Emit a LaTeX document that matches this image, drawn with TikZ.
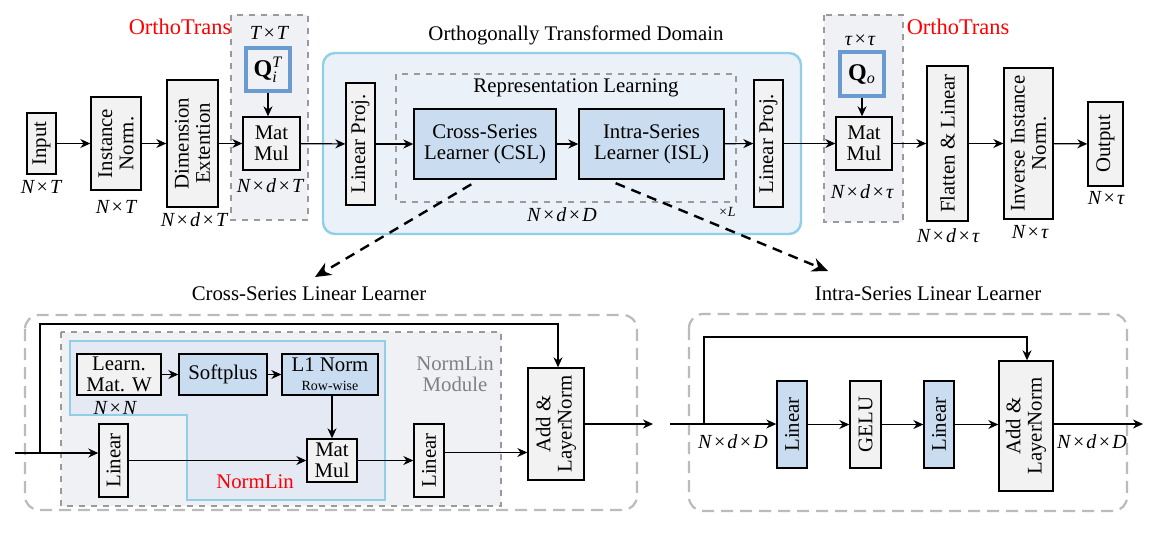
\documentclass[tikz,border=0pt]{standalone}
\usepackage{fontspec}
\setmainfont{Liberation Serif}
\usepackage{amsmath}
\usetikzlibrary{arrows.meta,calc}

\definecolor{boxgray}{HTML}{F2F2F2}
\definecolor{boxblue}{HTML}{C9DCF0}
\definecolor{qblue}{HTML}{6A9BD0}
\definecolor{domainline}{HTML}{8FCFE8}
\definecolor{domainfill}{HTML}{EAF1F9}
\definecolor{panelfill}{HTML}{EFF1F5}
\definecolor{normlinfill}{HTML}{E4E9F3}
\definecolor{dashgray}{HTML}{9A9A9A}
\definecolor{outergray}{HTML}{BBBBBB}

% compact italic shape labels
\newcommand{\shp}[1]{\textit{#1}}
\newcommand{\tms}{\kern0.6pt×\kern0.6pt}

\tikzset{
	box/.style={draw, fill=boxgray, line width=0.7pt, inner sep=1pt, align=center},
	bluebox/.style={box, fill=boxblue},
	vbox/.style={box, rotate=90},
	vbluebox/.style={bluebox, rotate=90},
	qbox/.style={draw=qblue, line width=1.6pt, fill=panelfill, inner sep=1pt},
	flow/.style={-{Stealth[length=5pt,width=4.5pt]}, line width=0.6pt},
	dimlabel/.style={font=\fontsize{10}{10}\selectfont\itshape},
	zoomarrow/.style={-{Stealth[length=8pt,width=7pt]}, line width=1.2pt, dash pattern=on 5pt off 3.5pt},
	panel/.style={draw=dashgray, dashed, line width=0.8pt, fill=panelfill}
}

\begin{document}
\begin{tikzpicture}[x=0.5pt, y=-0.5pt, font=\fontsize{10.4}{10.6}\selectfont]
	\useasboundingbox (0,0) rectangle (1165,532);

	% OrthoTrans panels and the transformed domain
	\filldraw[panel] (231,15) rectangle (308,220);
	\filldraw[panel] (824,15) rectangle (903,222);
	\filldraw[draw=domainline, fill=domainfill, line width=1.2pt, rounded corners=6pt] (323,53) rectangle (801,234);
	\draw[dashgray, dashed, line width=0.8pt] (396,74) rectangle (736,202);

	\node[red, font=\fontsize{11.2}{12}\selectfont] at (180,27) {OrthoTrans};
	\node[red, font=\fontsize{11.2}{12}\selectfont] at (958,27) {OrthoTrans};
	\node at (576,35) {Orthogonally Transformed Domain};
	\node at (576,88) {Representation Learning};

	% Top row
	\node[vbox, minimum width=30.5pt, minimum height=14.5pt] (inp) at (41.5,143.5) {Input};
	\node[vbox, minimum width=46.5pt, minimum height=25pt] (inorm) at (116,143.5) {Instance\\Norm.};
	\node[vbox, minimum width=63.5pt, minimum height=25.5pt] (dimext) at (192.5,143.5) {Dimension\\Extention};
	\node[qbox, minimum width=22pt, minimum height=21.5pt, font=\fontsize{12}{12}\selectfont] (qi) at (268,69.5) {\textbf{Q}$_{\textit{i}}^{\textit{T}}$};
	\node[box, minimum width=28.5pt, minimum height=26.5pt] (mmi) at (271.5,143.5) {Mat\\Mul};
	\node[vbox, minimum width=61pt, minimum height=14.5pt] (lpin) at (360.5,144) {Linear Proj.};
	\node[bluebox, minimum width=71pt, minimum height=35pt] (csl) at (485,144) {Cross-Series\\Learner (CSL)};
	\node[bluebox, minimum width=72.5pt, minimum height=35pt] (isl) at (651.5,144) {Intra-Series\\Learner (ISL)};
	\node[vbox, minimum width=63.5pt, minimum height=14.5pt] (lpout) at (768.5,143.5) {Linear Proj.};
	\node[qbox, minimum width=22pt, minimum height=22pt, font=\fontsize{12}{12}\selectfont] (qo) at (862,74) {\textbf{Q}$_{\textit{o}}$};
	\node[box, minimum width=28pt, minimum height=26.5pt] (mmo) at (864,143.5) {Mat\\Mul};
	\node[vbox, minimum width=77.5pt, minimum height=20.5pt] (flat) at (947.5,143.5) {Flatten \& Linear};
	\node[vbox, minimum width=75.5pt, minimum height=24.5pt] (inv) at (1028.5,143.5) {Inverse Instance\\Norm.};
	\node[vbox, minimum width=42pt, minimum height=17.5pt] (outp) at (1105.5,144) {Output};

	% Shapes
	\node[dimlabel] at (41,187) {N\tms T};
	\node[dimlabel] at (116,207) {N\tms T};
	\node[dimlabel] at (194,220) {N\tms d\tms T};
	\node[dimlabel] at (269,33) {T\tms T};
	\node[dimlabel] at (270,186) {N\tms d\tms T};
	\node[dimlabel] at (562,215) {N\tms d\tms D};
	\node[font=\fontsize{7}{7}\selectfont\itshape] at (727,212) {×L};
	\node[dimlabel] at (860,40) {τ\tms τ};
	\node[dimlabel] at (862,192) {N\tms d\tms τ};
	\node[dimlabel] at (948,236) {N\tms d\tms τ};
	\node[dimlabel] at (1030,232) {N\tms τ};
	\node[dimlabel] at (1106,198) {N\tms τ};

	\draw[flow] (inp) -- (inorm);
	\draw[flow] (inorm) -- (dimext);
	\draw[flow] (dimext) -- (mmi);
	\draw[flow] (qi) -- (qi |- mmi.north);
	\draw[flow] (mmi) -- (lpin);
	\draw[flow] (lpin) -- (csl);
	\draw[flow] (csl) -- (isl);
	\draw[flow] (isl) -- (lpout);
	\draw[flow] (lpout) -- (mmo);
	\draw[flow] (qo) -- (qo |- mmo.north);
	\draw[flow] (mmo) -- (flat);
	\draw[flow] (flat) -- (inv);
	\draw[flow] (inv) -- (outp);

	% Zoom-in arrows
	\coordinate (csltgt) at (315,277);
	\coordinate (isltgt) at (828,271);
	\draw[zoomarrow, shorten <=4.5pt] ($(csl.south)+(-6,0)$) -- (csltgt);
	\draw[zoomarrow, shorten <=4.5pt] ($(isl.south west)+(29,0)$) -- (isltgt);

	% Cross-Series Linear Learner
	\node at (309,294) {Cross-Series Linear Learner};
	\draw[outergray, dashed, line width=1.1pt, dash pattern=on 6pt off 3.5pt, rounded corners=7pt] (25,315) rectangle (637,510);
	\filldraw[panel] (61,332) rectangle (501,506);
	\filldraw[draw=domainline, fill=normlinfill, line width=1.1pt] (70,341) -- (385,341) -- (385,500) -- (187,500) -- (187,415) -- (70,415) -- cycle;
	\node[gray, align=center] at (455,374) {NormLin\\Module};
	\node[red] at (255,482) {NormLin};

	\node[box, minimum width=42pt, minimum height=20.5pt] (learnw) at (119,374.5) {Learn.\\Mat. W};
	\node[bluebox, minimum width=44pt, minimum height=20.5pt] (soft) at (223,374.5) {Softplus};
	\node[bluebox, minimum width=48pt, minimum height=20.5pt] (lnorm) at (330,374.5) {L1 Norm\\[-1pt]{\fontsize{7}{7}\selectfont Row-wise}};
	\node[box, minimum width=25pt, minimum height=21.5pt] (mmc) at (332,460.5) {Mat\\Mul};
	\node[vbox, minimum width=36.5pt, minimum height=14.5pt] (linca) at (113.5,460.5) {Linear};
	\node[vbox, minimum width=36.5pt, minimum height=15pt] (lincb) at (429,460.5) {Linear};
	\node[vbox, minimum width=56pt, minimum height=28pt] (addc) at (556,424) {Add \&\\LayerNorm};
	\node[dimlabel] at (115,408) {N\tms N};

	\coordinate (inc) at (15,453);
	\coordinate (brc) at (40,453);
	\coordinate (skipc) at (558,324);
	\coordinate (outc) at (653,424);
	\draw[flow] (inc) -- (inc -| linca.north);
	\draw[flow] (brc) |- (skipc) -- (skipc |- addc.east);
	\draw[flow] (learnw) -- (soft);
	\draw[flow] (soft) -- (lnorm);
	\draw[flow] (lnorm.south -| mmc) -- (mmc.north);
	\draw[flow] (linca) -- (mmc);
	\draw[flow] (mmc) -- (lincb);
	\draw[flow] ([yshift=4pt]lincb.south) -- ([yshift=4pt]lincb.south -| addc.north);
	\draw[flow] (addc) -- (outc);

	% Intra-Series Linear Learner
	\node at (928,294) {Intra-Series Linear Learner};
	\draw[outergray, dashed, line width=1.1pt, dash pattern=on 6pt off 3.5pt, rounded corners=7pt] (689,314) rectangle (1127,511);

	\node[vbluebox, minimum width=43.5pt, minimum height=15pt] (lini) at (792,424.5) {Linear};
	\node[vbox, minimum width=43.5pt, minimum height=15.5pt] (gelu) at (865.5,424.5) {GELU};
	\node[vbluebox, minimum width=43.5pt, minimum height=15pt] (linj) at (939,424.5) {Linear};
	\node[vbox, minimum width=65pt, minimum height=27pt] (addi) at (1026,426) {Add \&\\LayerNorm};
	\node[dimlabel] at (733,442) {N\tms d\tms D};
	\node[dimlabel] at (1092,442) {N\tms d\tms D};

	\coordinate (ini) at (670,424);
	\coordinate (bri) at (704,424);
	\coordinate (skipi) at (1027,337);
	\coordinate (outi) at (1143,424);
	\draw[flow] (ini) -- (ini -| lini.north);
	\draw[flow] (bri) |- (skipi) -- (skipi |- addi.east);
	\draw[flow] (lini) -- (gelu);
	\draw[flow] (gelu) -- (linj);
	\draw[flow] (linj) -- (linj -| addi.north);
	\draw[flow] (outi -| addi.south) -- (outi);
\end{tikzpicture}
\end{document}
